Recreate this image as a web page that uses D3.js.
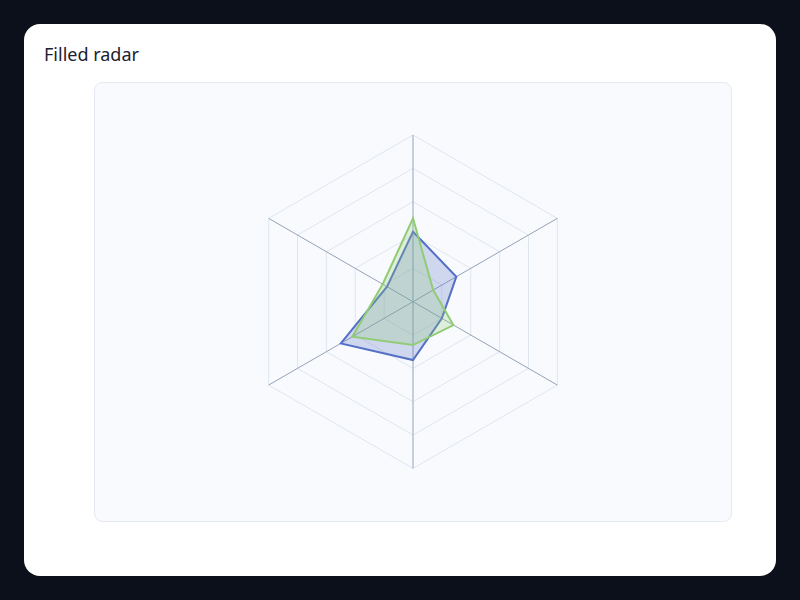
<!DOCTYPE html>
<html>
<head>
<meta charset="utf-8">
<script src="https://cdn.jsdelivr.net/npm/d3@7"></script>
<style>
html,body{margin:0;padding:0;background:#0b101b;}
svg{display:block;}
</style>
</head>
<body>
<svg id="chart" width="800" height="600"></svg>
<script>
const title = "Filled radar";
const categories = ["A", "B", "C", "D", "E", "F"];
const seriesNames = ["Series 1", "Series 2"];
const seriesA = [42, 30, 20, 35, 50, 18];
const seriesB = [50, 14, 28, 26, 42, 21];
const ringTicks = [20, 40, 60, 80, 100];
const maxValue = 100;
const colors = ["#5470c6", "#91cc75"];

const svg = d3.select("#chart");
svg.append("rect").attr("width", 800).attr("height", 600).attr("fill", "#0b101b");
svg.append("rect").attr("x", 24).attr("y", 24).attr("width", 752).attr("height", 552)
  .attr("rx", 16).attr("fill", "#ffffff");
svg.append("text").attr("x", 44).attr("y", 61).text(title)
  .attr("font-family", "'Noto Sans', sans-serif").attr("font-size", 18)
  .attr("fill", "#1b2130");

const plot = {x: 94.5, y: 82.5, w: 637, h: 439};
svg.append("rect").attr("x", plot.x).attr("y", plot.y).attr("width", plot.w).attr("height", plot.h)
  .attr("rx", 8).attr("fill", "#f8fafd").attr("stroke", "#e4e9f1").attr("stroke-width", 1);

const cx = 413, cy = 301.7, R = 166.7;
const g = svg.append("g").attr("transform", `translate(${cx},${cy})`);
const r = d3.scaleLinear().domain([0, maxValue]).range([0, R]);
const angle = d3.scalePoint().domain(categories).range([0, 2 * Math.PI * (categories.length - 1) / categories.length]);

const pt = (cat, v) => {
  const a = angle(cat);
  return [r(v) * Math.sin(a), -r(v) * Math.cos(a)];
};

// rings
ringTicks.forEach(t => {
  g.append("path")
    .attr("d", d3.line()(categories.map(c => pt(c, t))) + "Z")
    .attr("fill", "none").attr("stroke", "#e0e6ef").attr("stroke-width", 1);
});
// spokes
categories.forEach(c => {
  const [x, y] = pt(c, maxValue);
  g.append("line").attr("x1", 0).attr("y1", 0).attr("x2", x).attr("y2", y)
    .attr("stroke", "#94a3b8").attr("stroke-width", 1);
});

const radarLine = d3.lineRadial()
  .angle((d, i) => angle(categories[i]))
  .radius(d => r(d))
  .curve(d3.curveLinearClosed);

[seriesA, seriesB].forEach((s, i) => {
  g.append("path").attr("d", radarLine(s))
    .attr("fill", colors[i]).attr("fill-opacity", 0.25)
    .attr("stroke", colors[i]).attr("stroke-width", 2)
    .attr("stroke-linejoin", "miter");
});
</script>
</body>
</html>
